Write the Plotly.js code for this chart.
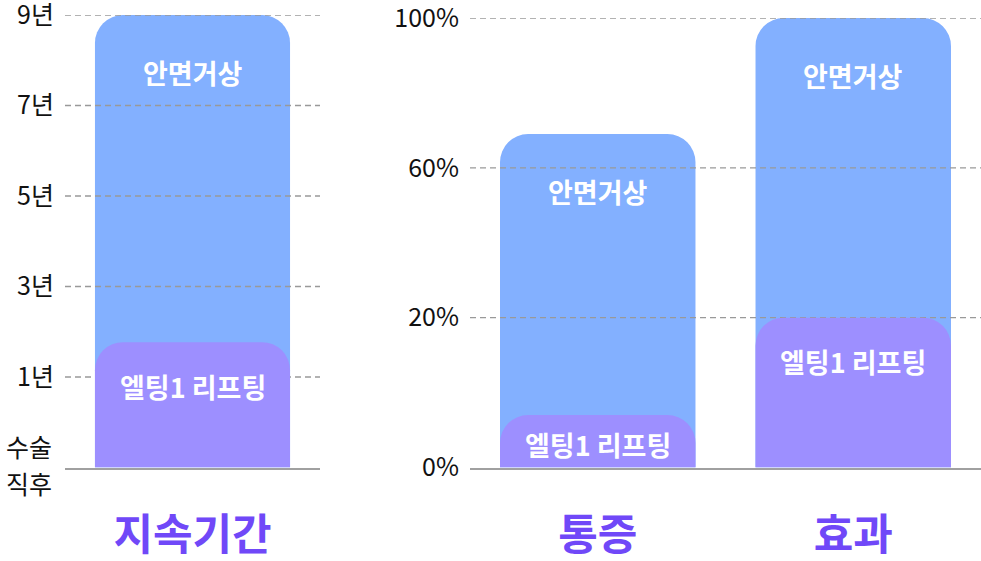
<!DOCTYPE html>
<html><head><meta charset="utf-8">
<script src="https://cdn.plot.ly/plotly-3.0.1.min.js"></script>
<style>html,body{margin:0;padding:0;background:#fff}#chart{width:981px;height:561px}</style>
</head><body><div id="chart"></div>
<script>
// ---- Data ----
const seriesNames = ['안면거상', '엘팅1 리프팅'];

const durationCategories = ['지속기간'];
const durationTickValues = [0, 1, 3, 5, 7, 9];
const durationTickLabels = ['수술<br>직후', '1년', '3년', '5년', '7년', '9년'];
const durationFacelift = [9];
const durationLifting = [1.77];

const outcomeCategories = ['통증', '효과'];
const outcomeTickValues = [0, 20, 60, 100];
const outcomeTickLabels = ['0%', '20%', '60%', '100%'];
const outcomeFacelift = [69, 100];
const outcomeLifting = [7, 20];

// ---- Style ----
const W = 981, H = 561;
const BLUE = '#83B0FF', PURPLE = '#9D8FFF', LABEL = '#7048F8', GRID = '#999999';
const FONT = '"Noto Sans CJK KR", "Noto Sans", sans-serif';
const leftX = [65 / W, 320 / W], rightX = [470 / W, 1];
const base = (H - 467.5) / H;
const leftY = [base, (H - 15) / H], rightY = [base, (H - 18) / H];

// piecewise-linear scale: value -> position of the equally spaced ticks
function toPos(v, ticks) {
  for (let i = 1; i < ticks.length; i++) {
    if (v <= ticks[i]) return (i - 1) + (v - ticks[i - 1]) / (ticks[i] - ticks[i - 1]);
  }
  return ticks.length - 1;
}
const idx = a => a.map((_, i) => i);

const dPosFace = durationFacelift.map(v => toPos(v, durationTickValues));
const dPosLift = durationLifting.map(v => toPos(v, durationTickValues));
const oPosFace = outcomeFacelift.map(v => toPos(v, outcomeTickValues));
const oPosLift = outcomeLifting.map(v => toPos(v, outcomeTickValues));

const leftRangeY = [0, durationTickValues.length - 1];
const rightRangeY = [0, outcomeTickValues.length - 1];
const leftRangeX = [-0.5, durationCategories.length - 0.5];
const rightRangeX = [-0.5, outcomeCategories.length - 0.5];
const leftPxPerUnit = (leftY[1] - leftY[0]) * H / (leftRangeY[1] - leftRangeY[0]);
const rightPxPerUnit = (rightY[1] - rightY[0]) * H / (rightRangeY[1] - rightRangeY[0]);

const barCommon = {type: 'bar', width: 0.765, hoverinfo: 'skip', showlegend: false};
const gridTraces = (ticks, rangeX, xa, ya) => ticks.slice(1).map((_, i) => ({
  type: 'scatter', mode: 'lines', x: rangeX, y: [i + 1, i + 1], xaxis: xa, yaxis: ya,
  line: {color: GRID, width: 1.4, dash: '6px,4px'}, hoverinfo: 'skip', showlegend: false
}));

const data = [
  Object.assign({}, barCommon, {x: idx(durationCategories), y: dPosFace, xaxis: 'x', yaxis: 'y',
    marker: {color: BLUE, cornerradius: 28}, name: seriesNames[0]}),
  Object.assign({}, barCommon, {x: idx(outcomeCategories), y: oPosFace, xaxis: 'x2', yaxis: 'y2',
    marker: {color: BLUE, cornerradius: 28}, name: seriesNames[0]}),
  ...gridTraces(durationTickValues, leftRangeX, 'x', 'y'),
  ...gridTraces(outcomeTickValues, rightRangeX, 'x2', 'y2'),
  Object.assign({}, barCommon, {x: idx(durationCategories), y: dPosLift, xaxis: 'x3', yaxis: 'y3',
    marker: {color: PURPLE, cornerradius: 28}, name: seriesNames[1]}),
  Object.assign({}, barCommon, {x: idx(outcomeCategories), y: oPosLift, xaxis: 'x4', yaxis: 'y4',
    marker: {color: PURPLE, cornerradius: 28}, name: seriesNames[1]})
];

const annotations = [];
function addLabels(pos, xa, ya, text, pxPerUnit, isTop) {
  pos.forEach((p, i) => {
    const barPx = p * pxPerUnit;
    const shift = isTop ? 57 : Math.min(44, barPx / 2 + 3);
    annotations.push({x: i, y: p, xref: xa, yref: ya, text: text, showarrow: false,
      yshift: -shift, yanchor: 'middle', xanchor: 'center',
      font: {family: FONT, size: 27, color: '#ffffff', weight: 700}});
  });
}
addLabels(dPosFace, 'x', 'y', seriesNames[0], leftPxPerUnit, true);
addLabels(oPosFace, 'x2', 'y2', seriesNames[0], rightPxPerUnit, true);
addLabels(dPosLift, 'x', 'y', seriesNames[1], leftPxPerUnit, false);
addLabels(oPosLift, 'x2', 'y2', seriesNames[1], rightPxPerUnit, false);

const TICKFONT = {family: FONT, size: 25, color: '#111111'};
// the two-line baseline label of the duration axis, with wider line spacing
const durationZeroLines = durationTickLabels[0].split('<br>');
const leftTickText = durationTickLabels.map((t, i) => i === 0 ? '' : t);
durationZeroLines.forEach((line, j) => {
  annotations.push({x: leftX[0], xref: 'paper', y: 0, yref: 'y', text: line, showarrow: false,
    xanchor: 'right', yanchor: 'middle', xshift: -11,
    yshift: 3 + (durationZeroLines.length - 1) / 2 * 37 - j * 37, font: TICKFONT});
});

const xCat = (domain, range, cats, anchor) => ({
  domain: domain, range: range, anchor: anchor, fixedrange: true,
  tickmode: 'array', tickvals: idx(cats), ticktext: cats, ticks: '',
  showgrid: false, zeroline: false, showline: true, linecolor: '#a0a0a0', linewidth: 2,
  layer: 'above traces', ticklabelstandoff: 29, ticklabeloverflow: 'allow',
  tickfont: {family: FONT, size: 43, color: LABEL, weight: 700}
});
const yTicks = (domain, range, labels, anchor) => ({
  domain: domain, range: range, anchor: anchor, fixedrange: true,
  tickmode: 'array', tickvals: idx(labels), ticktext: labels, ticks: '',
  showgrid: false, zeroline: false, showline: false, ticklabelstandoff: 10,
  ticklabeloverflow: 'allow', tickfont: TICKFONT
});

const layout = {
  width: W, height: H, margin: {l: 0, r: 0, t: 0, b: 0},
  paper_bgcolor: '#ffffff', plot_bgcolor: 'rgba(0,0,0,0)',
  barmode: 'overlay', showlegend: false,
  xaxis: xCat(leftX, leftRangeX, durationCategories, 'y'),
  yaxis: yTicks(leftY, leftRangeY, leftTickText, 'x'),
  xaxis2: xCat(rightX, rightRangeX, outcomeCategories, 'y2'),
  yaxis2: yTicks(rightY, rightRangeY, outcomeTickLabels, 'x2'),
  xaxis3: {overlaying: 'x', range: leftRangeX, visible: false, anchor: 'y3', fixedrange: true},
  yaxis3: {overlaying: 'y', range: leftRangeY, visible: false, anchor: 'x3', fixedrange: true},
  xaxis4: {overlaying: 'x2', range: rightRangeX, visible: false, anchor: 'y4', fixedrange: true},
  yaxis4: {overlaying: 'y2', range: rightRangeY, visible: false, anchor: 'x4', fixedrange: true},
  annotations: annotations
};

Plotly.newPlot('chart', data, layout, {displayModeBar: false, staticPlot: true});
</script></body></html>
